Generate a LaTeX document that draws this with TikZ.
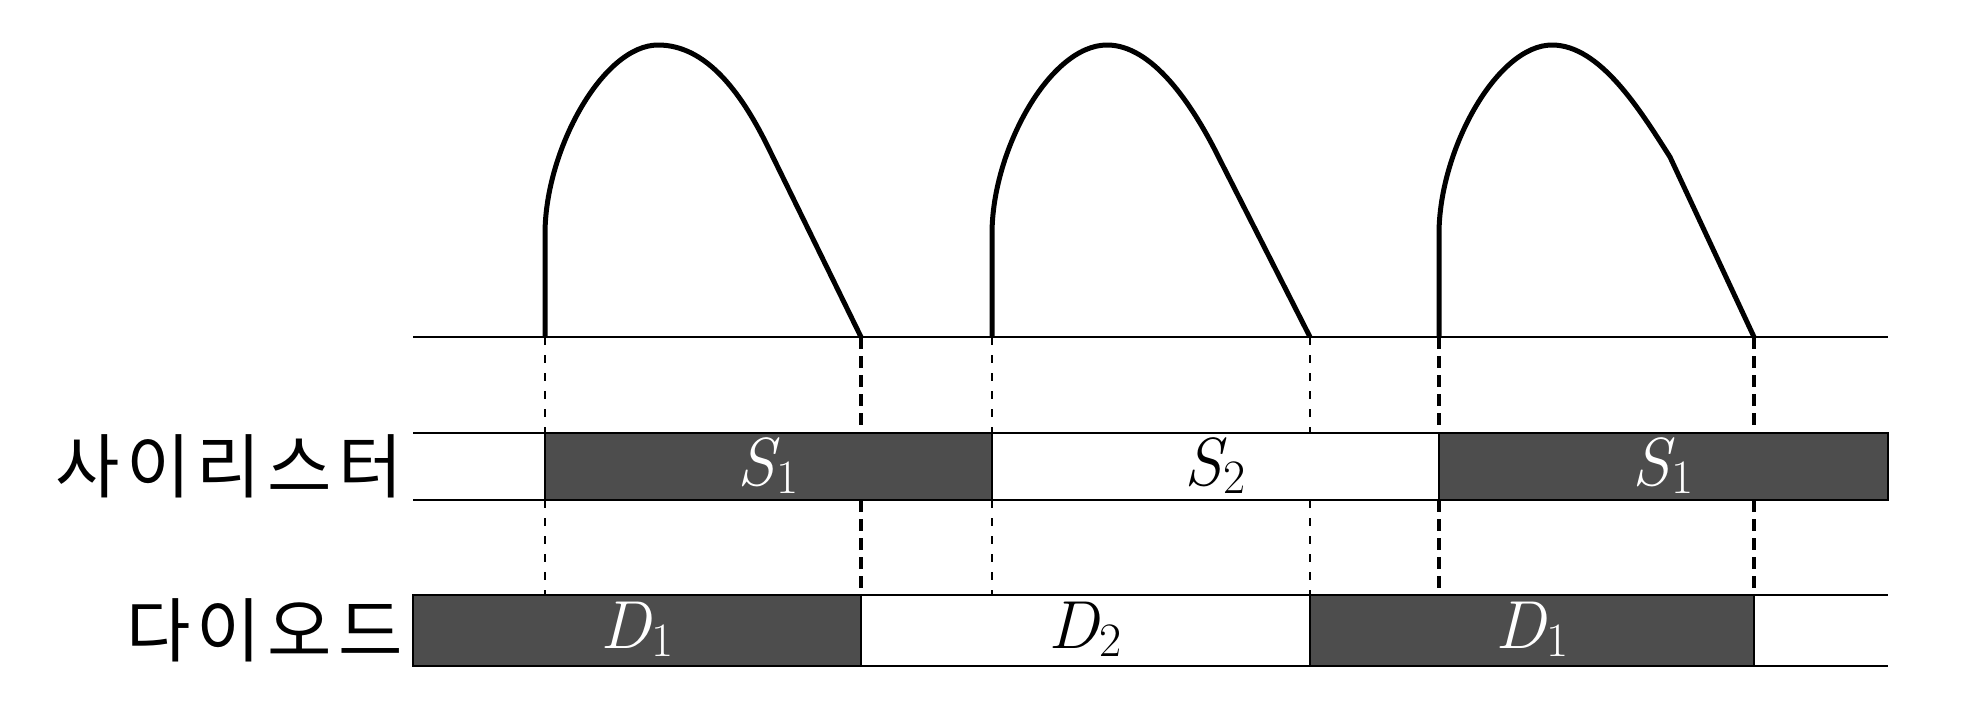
\documentclass[tikz,border=0pt]{standalone}
\usepackage{fontspec}
\setmainfont{Latin Modern Roman}
\newfontfamily\krfont[LetterSpace=9]{Noto Sans CJK KR}
\definecolor{darkfill}{RGB}{77,77,77}
\newcommand{\sublbl}[2]{{\itshape #1}\kern0.5pt\raisebox{-4pt}{\fontsize{24}{28}\selectfont #2}}
\begin{document}
\begin{tikzpicture}[x=0.5pt,y=-0.5pt,
  wave/.style={line width=2.5pt, line join=round},
  axisline/.style={line width=1pt},
  bandline/.style={line width=1.3pt},
  darkbox/.style={draw=black, line width=1.3pt, fill=darkfill},
  thindash/.style={line width=0.8pt, dash pattern=on 4pt off 5pt},
  thickdash/.style={line width=2pt, dash pattern=on 6pt off 3.5pt},
  lbl/.style={font=\fontsize{34}{40}\selectfont, inner sep=0pt, anchor=base},
  krlbl/.style={font=\krfont\fontsize{35}{40}\selectfont, anchor=east, inner sep=0pt}]
\useasboundingbox (0,0) rectangle (1987,728);

% named coordinates at each switching instant
\foreach \n/\x in {a/545,b/861,c/992,d/1310,e/1439,f/1754}{
  \coordinate (t\n0) at (\x,337);
  \coordinate (t\n1) at (\x,433);
  \coordinate (t\n2) at (\x,500);
  \coordinate (t\n3) at (\x,595);
}
\coordinate (axL) at (413,337);  \coordinate (axR) at (1888,337);
\coordinate (tTL) at (413,433);  \coordinate (tTR) at (1888,433);
\coordinate (tBL) at (413,500);  \coordinate (tBR) at (1888,500);
\coordinate (dTL) at (413,595);  \coordinate (dTR) at (1888,595);
\coordinate (dBL) at (413,666);  \coordinate (dBR) at (1888,666);

% axis line
\draw[axisline] (axL) -- (axR);

% thyristor band
\draw[bandline] (tTL) -- (tTR);
\draw[bandline] (tBL) -- (tBR);
\draw[darkbox] (ta1) rectangle (tc2);
\draw[darkbox] (te1) rectangle (tBR);
\node[lbl, text=white] (lblSa) at (768,485) {\sublbl{S}{1}};
\node[lbl] (lblSb) at (1215,485) {\sublbl{S}{2}};
\node[lbl, text=white] (lblSc) at (1663,485) {\sublbl{S}{1}};

% diode band
\draw[bandline] (dTL) -- (dTR);
\draw[bandline] (dBL) -- (dBR);
\draw[darkbox] (dTL) rectangle (861,666);
\draw[darkbox] (td3) rectangle (1754,666);
\node[lbl, text=white] (lblDa) at (637,648) {\sublbl{D}{1}};
\node[lbl] (lblDb) at (1085,648) {\sublbl{D}{2}};
\node[lbl, text=white] (lblDc) at (1532,648) {\sublbl{D}{1}};

% row titles
\node[krlbl] (thy) at (403,466) {사이리스터};
\node[krlbl] (dio) at (403,630) {다이오드};

% dashed guide lines
\foreach \n in {a,c,d}{
  \draw[thindash] (t\n0) -- (t\n1);
  \draw[thindash] (t\n2) -- (t\n3);
}
\foreach \n in {b,e,f}{
  \draw[thickdash] (t\n0) -- (t\n1);
  \draw[thickdash] (t\n2) -- (t\n3);
}

% waveform
\draw[wave] (ta0) -- (545,234) .. controls (545,150) and (603,45) .. (658,45)
  .. controls (705,45) and (740,90) .. (768,147) -- (tb0);
\draw[wave] (tc0) -- (992,234) .. controls (992,150) and (1050,45) .. (1107,45)
  .. controls (1152,45) and (1192,103) .. (1220,160) -- (td0);
\draw[wave] (te0) -- (1439,234) .. controls (1439,150) and (1497,45) .. (1552,45)
  .. controls (1600,45) and (1640,110) .. (1670,157) -- (tf0);
\end{tikzpicture}
\end{document}
